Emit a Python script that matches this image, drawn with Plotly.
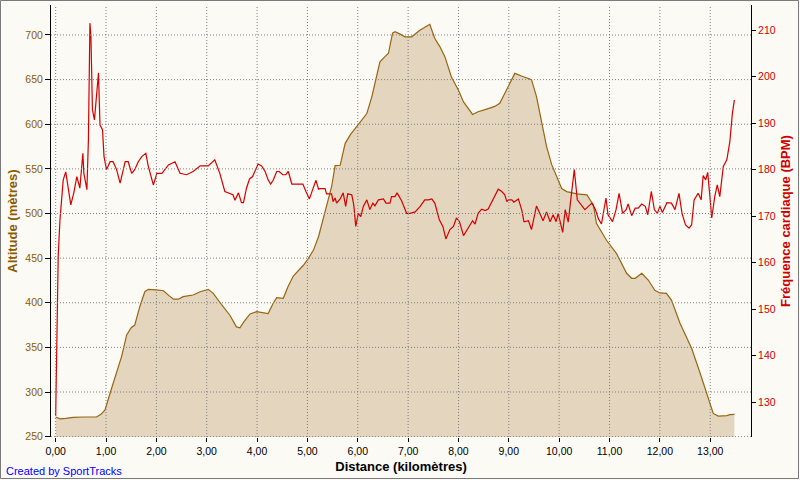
import plotly.graph_objects as go

# ---------------- data ----------------
alt_km = [0.00, 0.09, 0.20, 0.35, 0.55, 0.81, 0.90, 0.98, 1.08, 1.20, 1.31, 1.41, 1.50, 1.57,
          1.67, 1.77, 1.84, 2.00, 2.14, 2.25, 2.34, 2.44, 2.53, 2.73, 2.87, 3.03, 3.13, 3.30,
          3.46, 3.59, 3.66, 3.74, 3.86, 3.99, 4.22, 4.32, 4.39, 4.52, 4.62, 4.72, 4.92, 5.02,
          5.12, 5.22, 5.31, 5.41, 5.48, 5.55, 5.65, 5.75, 5.85, 6.01, 6.18, 6.28, 6.44, 6.54,
          6.61, 6.69, 6.74, 6.84, 6.94, 7.07, 7.24, 7.40, 7.43, 7.53, 7.63, 7.73, 7.86, 8.00,
          8.10, 8.28, 8.39, 8.56, 8.72, 8.82, 8.89, 8.99, 9.12, 9.25, 9.45, 9.55, 9.65, 9.75,
          9.85, 9.95, 10.05, 10.15, 10.35, 10.55, 10.68, 10.74, 10.81, 10.94, 11.14, 11.34,
          11.44, 11.51, 11.64, 11.77, 11.90, 12.00, 12.13, 12.23, 12.40, 12.63, 12.80, 12.96,
          13.06, 13.16, 13.33, 13.39, 13.48]
alt_m = [272, 270, 270.5, 271.5, 272, 272, 275, 280, 298.6, 320, 340, 364, 372, 375,
         395.6, 412.4, 415, 414.5, 413.5, 408, 404, 404, 406.8, 408.7, 412.4, 415, 410.6, 397.5,
         386, 373, 372, 378.8, 387.5, 390, 388, 399.4, 405.7, 405, 418.8, 430, 442, 449.8,
         459, 474, 495, 515, 530, 553.6, 554, 578.6, 588, 600, 612, 631, 670, 675.7,
         679.5, 702, 703.7, 701, 698, 698, 705.6, 711, 712, 696, 687, 675.7, 653, 638,
         625, 611, 614, 617, 620, 623.5, 631, 642, 657, 654, 650, 631, 601, 575,
         555, 541, 528, 524.5, 522, 520.8, 509.6, 489, 482, 470, 455, 433,
         427.4, 427.4, 433, 425.5, 414, 411, 410.6, 403, 377, 349, 321, 294.8,
         276, 273, 273.5, 274.6, 275]

hr_km = [0.00, 0.02, 0.03, 0.05, 0.085, 0.12, 0.15, 0.20, 0.25, 0.30, 0.36, 0.42, 0.48, 0.54,
         0.56, 0.62, 0.65, 0.68, 0.70, 0.73, 0.77, 0.81, 0.85, 0.88, 0.93, 0.96, 1.01, 1.08,
         1.14, 1.21, 1.28, 1.38, 1.44, 1.51, 1.57, 1.64, 1.71, 1.79, 1.84, 1.94, 2.01, 2.11,
         2.24, 2.37, 2.47, 2.60, 2.73, 2.87, 3.03, 3.16, 3.26, 3.36, 3.46, 3.52, 3.56, 3.63,
         3.69, 3.73, 3.79, 3.85, 3.91, 3.97, 4.02, 4.09, 4.16, 4.22, 4.27, 4.32, 4.39, 4.44,
         4.51, 4.57, 4.62, 4.69, 4.91, 4.97, 5.04, 5.10, 5.17, 5.22, 5.25, 5.35, 5.38, 5.48,
         5.51, 5.55, 5.58, 5.65, 5.71, 5.76, 5.80, 5.88, 5.92, 5.96, 6.01, 6.06, 6.11, 6.18,
         6.24, 6.30, 6.34, 6.41, 6.51, 6.56, 6.64, 6.67, 6.74, 6.78, 6.87, 6.97, 7.04, 7.14,
         7.24, 7.33, 7.40, 7.47, 7.53, 7.62, 7.69, 7.75, 7.83, 7.90, 7.96, 8.02, 8.10, 8.19,
         8.28, 8.33, 8.39, 8.46, 8.53, 8.59, 8.68, 8.79, 8.86, 8.92, 8.96, 8.99, 9.06, 9.10,
         9.19, 9.26, 9.30, 9.32, 9.39, 9.45, 9.55, 9.62, 9.68, 9.75, 9.82, 9.88, 9.94, 9.98,
         10.03, 10.07, 10.12, 10.18, 10.23, 10.30, 10.36, 10.45, 10.51, 10.58, 10.65, 10.72,
         10.78, 10.84, 10.93, 10.97, 11.06, 11.13, 11.19, 11.26, 11.33, 11.37, 11.44, 11.51,
         11.57, 11.64, 11.71, 11.76, 11.83, 11.89, 11.95, 12.00, 12.05, 12.14, 12.23, 12.30,
         12.38, 12.44, 12.51, 12.58, 12.63, 12.68, 12.76, 12.82, 12.86, 12.91, 12.95, 13.00,
         13.03, 13.09, 13.14, 13.19, 13.26, 13.33, 13.39, 13.44, 13.48]
hr_bpm = [127, 142, 150.6, 161.3, 169.2, 174.2, 177.8, 179.5, 176.4, 172.4, 175, 178.5, 176, 183.5,
          179.2, 175.7, 186.4, 211.5, 208.6, 192.9, 190.7, 196.5, 200.8, 189.6, 188.6, 182.8, 180, 181.7,
          181.7, 180, 177.1, 181.7, 181.7, 179.2, 180, 181.7, 182.8, 183.5, 180.7, 176.7, 179.2, 179.2,
          181, 181.7, 179.2, 178.9, 179.6, 180.8, 180.8, 182.1, 179.2, 175.3, 174.9, 174.6, 173.4, 175,
          172.9, 172.9, 176, 178, 178.5, 180, 181.2, 180.8, 179.6, 177.8, 176.9, 177.7, 179.6, 179.6,
          178.9, 178.9, 179.6, 176.9, 176.9, 175.3, 173.7, 175.6, 177.7, 175.8, 175.9, 175.9, 174.8, 174.8,
          173.1, 173.9, 172.8, 173.7, 175, 172.1, 174.8, 174.6, 172.4, 167.8, 170.6, 169.9, 172.1, 173.5,
          171.4, 172.8, 172.2, 173.5, 173.7, 172.8, 172.8, 174.2, 174.2, 175, 173.3, 170.6, 170.6, 170.9,
          172.1, 173.5, 173.5, 173.7, 172.8, 169.2, 167.8, 165.1, 167.1, 167.8, 169.6, 168.8, 165.8, 167.4,
          169, 168.3, 170.6, 171.5, 171.2, 171.5, 173.5, 175.8, 175.3, 174.6, 173.1, 173.5, 173.5, 173,
          173.7, 171.2, 168.8, 168.8, 169, 167.1, 172.2, 170.3, 169, 170.9, 168.8, 170.3, 168.8, 170.6,
          168.5, 166.5, 171.4, 168.7, 173.5, 180, 173.5, 172.2, 171.4, 172.1, 172.8, 171.4,
          169.4, 168.3, 173.9, 170.3, 168.8, 171.4, 174.9, 170.6, 171.4, 172.6, 170.1, 171.7,
          171.7, 172.6, 172.1, 170.3, 175.3, 171.4, 170.6, 172.1, 170.8, 172.9, 172.8, 171.4,
          174.9, 170.6, 168.1, 167.4, 168.1, 173.5, 174.9, 173.5, 178.7, 177.8, 179.4, 173.5,
          169.6, 174.2, 176.7, 174.2, 180.7, 182.1, 186, 192.1, 195]

x_ticks = list(range(0, 14))
alt_ticks = list(range(250, 701, 50))
hr_ticks = list(range(130, 211, 10))

# ---------------- styles ----------------
BG = "#FBFAF5"
BROWN = "#8C5A00"
RED = "#CC0000"
FONT = "Liberation Sans, Arial, sans-serif"
GRID = dict(color="#808080", width=1, dash="1px,2px")

# plot area in pixels
L, R, T, B = 51, 49, 5, 43
W, H = 800, 480
PW, PH = W - L - R, H - T - B


def px_x(p):
    return (p - L) / PW


def px_y(p):
    return (H - B - p) / PH


fig = go.Figure()
fig.add_trace(go.Scatter(
    x=alt_km, y=alt_m, mode="lines", fill="tozeroy",
    fillcolor="#E3D5BE", line=dict(color="#9A6510", width=1.2),
    hoverinfo="skip", showlegend=False, yaxis="y"))
fig.add_trace(go.Scatter(
    x=hr_km, y=hr_bpm, mode="lines",
    line=dict(color="#D40000", width=1.2),
    hoverinfo="skip", showlegend=False, yaxis="y2"))

shapes = []
for v in x_ticks:
    shapes.append(dict(type="line", xref="x", yref="paper", x0=v, x1=v, y0=0, y1=1,
                       line=GRID, layer="above"))
for v in alt_ticks:
    shapes.append(dict(type="line", xref="paper", yref="y", x0=0, x1=1, y0=v, y1=v,
                       line=GRID, layer="above"))
# outer window border
shapes.append(dict(type="rect", xref="paper", yref="paper",
                   x0=px_x(0.5), x1=px_x(798.5), y0=px_y(478.5), y1=px_y(0.5),
                   line=dict(color="#7A7A7A", width=1), layer="above"))

fig.update_layout(
    width=W, height=H,
    margin=dict(l=L, r=R, t=T, b=B, autoexpand=False),
    paper_bgcolor=BG, plot_bgcolor=BG,
    separators=", ",
    font=dict(family=FONT, size=11, color="black"),
    shapes=shapes,
    xaxis=dict(
        range=[-0.093, 13.81], tickvals=x_ticks, tickformat=".2f",
        ticks="outside", ticklen=4, tickcolor="black", tickwidth=1,
        showline=False, showgrid=False, zeroline=False,
        tickfont=dict(size=10.5, color="black", family=FONT),
        title=dict(text="Distance (kilomètres)", standoff=6,
                   font=dict(size=13, color="black", family=FONT, weight="bold")),
        automargin=False),
    yaxis=dict(
        range=[249.6, 733.6], tickvals=alt_ticks,
        ticks="outside", ticklen=5, tickcolor="black", tickwidth=1,
        showline=True, linecolor="black", linewidth=1,
        showgrid=False, zeroline=False,
        tickfont=dict(size=10.5, color=BROWN, family=FONT),
        title=dict(text="Altitude (mètres)", standoff=4,
                   font=dict(size=13, color=BROWN, family=FONT, weight="bold")),
        automargin=False),
    yaxis2=dict(
        overlaying="y", side="right",
        range=[122.5, 215.4], tickvals=hr_ticks,
        ticks="outside", ticklen=4, tickcolor="black", tickwidth=1,
        showline=True, linecolor="black", linewidth=1,
        showgrid=False, zeroline=False,
        tickfont=dict(size=10.5, color=RED, family=FONT),
        title=dict(text="Fréquence cardiaque (BPM)", standoff=6,
                   font=dict(size=13, color=RED, family=FONT, weight="bold")),
        automargin=False),
    annotations=[dict(
        text="Created by SportTracks", xref="paper", yref="paper",
        x=px_x(4), y=px_y(471), xanchor="left", yanchor="middle",
        showarrow=False, font=dict(size=11, color="#0000FF", family=FONT))],
)

fig.write_html("out.html", config={"displayModeBar": False},
               post_script="document.body.style.margin='0px';")
